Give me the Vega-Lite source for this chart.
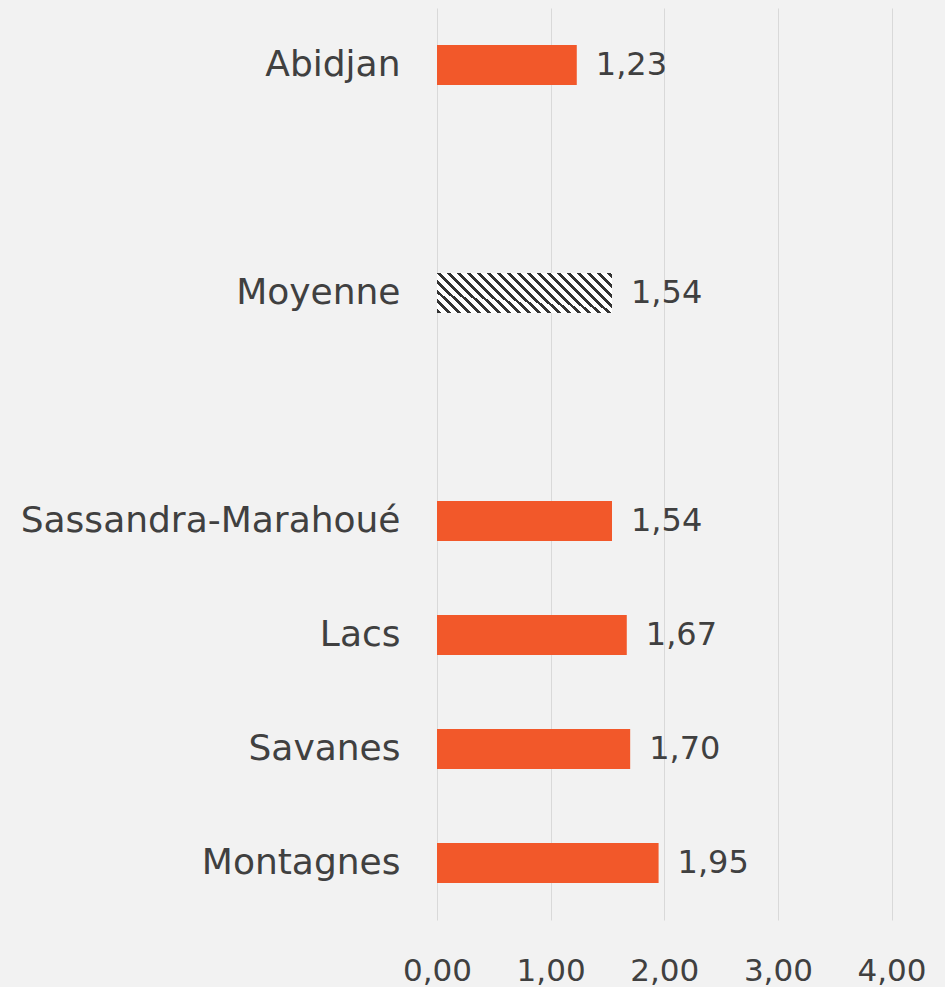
{
  "$schema": "https://vega.github.io/schema/vega-lite/v6.json",
  "autosize": "none",
  "padding": {"left": 437, "top": 8, "right": 8, "bottom": 67},
  "width": 500,
  "height": 912,
  "background": "#f2f2f2",
  "config": {
    "locale": {"number": {"decimal": ",", "thousands": " ", "grouping": [3], "currency": ["", " €"]}},
    "view": {"stroke": null},
    "font": "DejaVu Sans"
  },
  "data": {
    "values": [
      {"region": "Abidjan", "value": 1.23},
      {"region": "Moyenne", "value": 1.54},
      {"region": "Sassandra-Marahoué", "value": 1.54},
      {"region": "Lacs", "value": 1.67},
      {"region": "Savanes", "value": 1.70},
      {"region": "Montagnes", "value": 1.95}
    ]
  },
  "encoding": {
    "y": {
      "field": "region",
      "type": "nominal",
      "scale": {
        "domain": ["Abidjan", "_1", "Moyenne", "_2", "Sassandra-Marahoué", "Lacs", "Savanes", "Montagnes"],
        "paddingInner": 0.65,
        "paddingOuter": 0.325
      },
      "axis": {
        "title": null,
        "domain": false,
        "ticks": false,
        "labelExpr": "indexof(datum.value, '_') === 0 ? '' : datum.value",
        "labelPadding": 37,
        "labelFontSize": 36,
        "labelColor": "#404040",
        "labelFont": "DejaVu Sans",
        "labelLimit": 500
      }
    },
    "x": {
      "field": "value",
      "type": "quantitative",
      "scale": {"domain": [0, 4.4], "nice": false},
      "axis": {
        "title": null,
        "values": [0, 1, 2, 3, 4],
        "format": ".2f",
        "domain": false,
        "ticks": false,
        "grid": true,
        "gridColor": "#d9d9d9",
        "gridWidth": 1,
        "labelPadding": 36,
        "labelFontSize": 31,
        "labelColor": "#404040",
        "labelFont": "DejaVu Sans",
        "labelFlush": false
      }
    }
  },
  "layer": [
    {
      "transform": [{"filter": "datum.region !== 'Moyenne'"}],
      "mark": {"type": "bar", "color": "#F2582A"}
    },
    {
      "transform": [{"filter": "datum.region === 'Moyenne'"}],
      "mark": {
        "type": "bar",
        "color": {
          "gradient": "linear",
          "x1": 0, "y1": 1, "x2": 1.1676, "y2": 0.7331,
          "stops": [
            {"offset": 0, "color": "#333333"}, {"offset": 0.0186, "color": "#333333"}, {"offset": 0.0186, "color": "#ffffff"}, {"offset": 0.0465, "color": "#ffffff"},
            {"offset": 0.0465, "color": "#333333"}, {"offset": 0.0651, "color": "#333333"}, {"offset": 0.0651, "color": "#ffffff"}, {"offset": 0.0930, "color": "#ffffff"},
            {"offset": 0.0930, "color": "#333333"}, {"offset": 0.1116, "color": "#333333"}, {"offset": 0.1116, "color": "#ffffff"}, {"offset": 0.1395, "color": "#ffffff"},
            {"offset": 0.1395, "color": "#333333"}, {"offset": 0.1581, "color": "#333333"}, {"offset": 0.1581, "color": "#ffffff"}, {"offset": 0.1860, "color": "#ffffff"},
            {"offset": 0.1860, "color": "#333333"}, {"offset": 0.2046, "color": "#333333"}, {"offset": 0.2046, "color": "#ffffff"}, {"offset": 0.2325, "color": "#ffffff"},
            {"offset": 0.2325, "color": "#333333"}, {"offset": 0.2511, "color": "#333333"}, {"offset": 0.2511, "color": "#ffffff"}, {"offset": 0.2790, "color": "#ffffff"},
            {"offset": 0.2790, "color": "#333333"}, {"offset": 0.2976, "color": "#333333"}, {"offset": 0.2976, "color": "#ffffff"}, {"offset": 0.3255, "color": "#ffffff"},
            {"offset": 0.3255, "color": "#333333"}, {"offset": 0.3441, "color": "#333333"}, {"offset": 0.3441, "color": "#ffffff"}, {"offset": 0.3720, "color": "#ffffff"},
            {"offset": 0.3720, "color": "#333333"}, {"offset": 0.3906, "color": "#333333"}, {"offset": 0.3906, "color": "#ffffff"}, {"offset": 0.4185, "color": "#ffffff"},
            {"offset": 0.4185, "color": "#333333"}, {"offset": 0.4371, "color": "#333333"}, {"offset": 0.4371, "color": "#ffffff"}, {"offset": 0.4650, "color": "#ffffff"},
            {"offset": 0.4650, "color": "#333333"}, {"offset": 0.4836, "color": "#333333"}, {"offset": 0.4836, "color": "#ffffff"}, {"offset": 0.5115, "color": "#ffffff"},
            {"offset": 0.5115, "color": "#333333"}, {"offset": 0.5301, "color": "#333333"}, {"offset": 0.5301, "color": "#ffffff"}, {"offset": 0.5580, "color": "#ffffff"},
            {"offset": 0.5580, "color": "#333333"}, {"offset": 0.5766, "color": "#333333"}, {"offset": 0.5766, "color": "#ffffff"}, {"offset": 0.6045, "color": "#ffffff"},
            {"offset": 0.6045, "color": "#333333"}, {"offset": 0.6231, "color": "#333333"}, {"offset": 0.6231, "color": "#ffffff"}, {"offset": 0.6510, "color": "#ffffff"},
            {"offset": 0.6510, "color": "#333333"}, {"offset": 0.6696, "color": "#333333"}, {"offset": 0.6696, "color": "#ffffff"}, {"offset": 0.6975, "color": "#ffffff"},
            {"offset": 0.6975, "color": "#333333"}, {"offset": 0.7161, "color": "#333333"}, {"offset": 0.7161, "color": "#ffffff"}, {"offset": 0.7440, "color": "#ffffff"},
            {"offset": 0.7440, "color": "#333333"}, {"offset": 0.7626, "color": "#333333"}, {"offset": 0.7626, "color": "#ffffff"}, {"offset": 0.7905, "color": "#ffffff"},
            {"offset": 0.7905, "color": "#333333"}, {"offset": 0.8091, "color": "#333333"}, {"offset": 0.8091, "color": "#ffffff"}, {"offset": 0.8370, "color": "#ffffff"},
            {"offset": 0.8370, "color": "#333333"}, {"offset": 0.8556, "color": "#333333"}, {"offset": 0.8556, "color": "#ffffff"}, {"offset": 0.8835, "color": "#ffffff"},
            {"offset": 0.8835, "color": "#333333"}, {"offset": 0.9021, "color": "#333333"}, {"offset": 0.9021, "color": "#ffffff"}, {"offset": 0.9300, "color": "#ffffff"},
            {"offset": 0.9300, "color": "#333333"}, {"offset": 0.9486, "color": "#333333"}, {"offset": 0.9486, "color": "#ffffff"}, {"offset": 0.9765, "color": "#ffffff"},
            {"offset": 0.9765, "color": "#333333"}, {"offset": 0.9951, "color": "#333333"}, {"offset": 0.9951, "color": "#ffffff"}, {"offset": 1, "color": "#ffffff"}
          ]
        }
      }
    },
    {
      "mark": {"type": "text", "align": "left", "baseline": "middle", "dx": 19, "fontSize": 32, "color": "#404040", "font": "DejaVu Sans"},
      "encoding": {"text": {"field": "value", "type": "quantitative", "format": ".2f"}}
    }
  ]
}
